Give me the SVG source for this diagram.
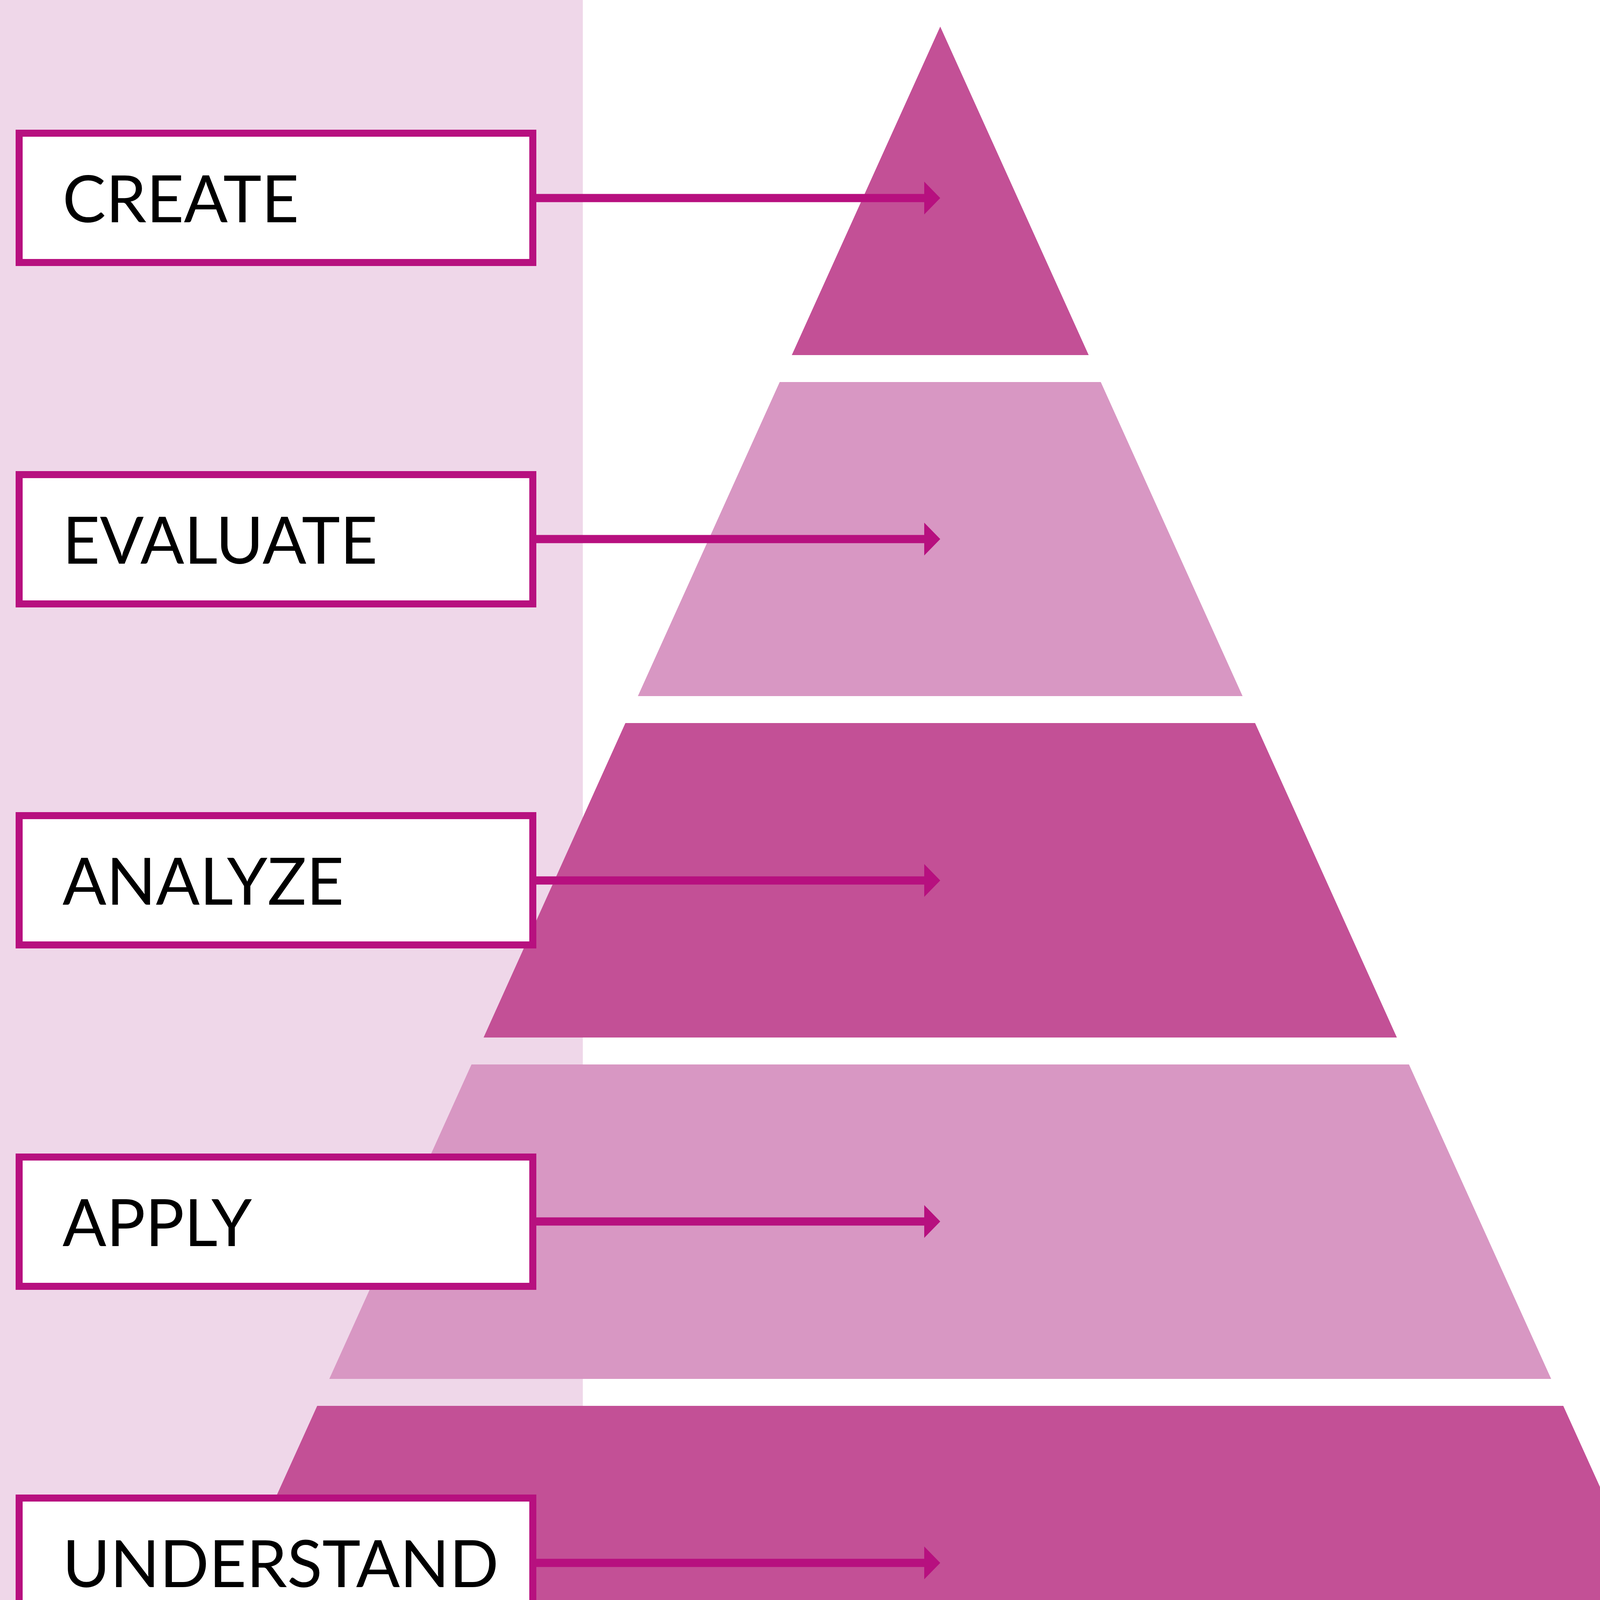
<svg xmlns="http://www.w3.org/2000/svg" width="4734" height="5277" viewBox="0 0 4734 5277">
<style>
.dark{fill:#C35096}
.light{fill:#D897C3}
.box{fill:#FFFFFF;stroke:#B7107F;stroke-width:18}
.lbl{font-family:Lato,"Liberation Sans",sans-serif;font-size:166px;fill:#000000}
.conn{stroke:#B7107F;stroke-width:21;fill:none}
</style>
<defs>
<marker id="ah" markerUnits="userSpaceOnUse" markerWidth="41" markerHeight="84" viewBox="0 0 41 84" refX="0" refY="42" orient="auto">
<path d="M0,0 L41,42 L0,84 Z" fill="#B7107F"/>
</marker>
</defs>
<rect x="0" y="0" width="4734" height="5277" fill="#FFFFFF"/>
<rect x="0" y="0" width="1492" height="5277" fill="#EFD7E9"/>
<g id="pyramid">
<polygon id="tier-create" class="dark" points="2407,68 2787,909 2027,909"/>
<polygon id="tier-evaluate" class="light" points="1996,978 2818,978 3181,1782 1633,1782"/>
<polygon id="tier-analyze" class="dark" points="1601,1851 3213,1851 3576,2656 1238,2656"/>
<polygon id="tier-apply" class="light" points="1207,2725 3607,2725 3971,3530 843,3530"/>
<polygon id="tier-understand" class="dark" points="812,3599 4002,3599 4366,4403 448,4403"/>
<polygon id="tier-remember" class="light" points="417,4473 4397,4473 4760,5277 54,5277"/>
</g>
<g id="connectors">
<line class="conn" x1="1373" y1="507" x2="2366" y2="507" marker-end="url(#ah)"/>
<line class="conn" x1="1373" y1="1380" x2="2366" y2="1380" marker-end="url(#ah)"/>
<line class="conn" x1="1373" y1="2254" x2="2366" y2="2254" marker-end="url(#ah)"/>
<line class="conn" x1="1373" y1="3127" x2="2366" y2="3127" marker-end="url(#ah)"/>
<line class="conn" x1="1373" y1="4001" x2="2366" y2="4001" marker-end="url(#ah)"/>
<line class="conn" x1="1373" y1="4875" x2="2366" y2="4875" marker-end="url(#ah)"/>
</g>
<g id="node-create"><rect class="box" x="49" y="341" width="1315" height="331"/><text class="lbl" x="160" y="569">CREATE</text></g>
<g id="node-evaluate"><rect class="box" x="49" y="1215" width="1315" height="331"/><text class="lbl" x="160" y="1443">EVALUATE</text></g>
<g id="node-analyze"><rect class="box" x="49" y="2088" width="1315" height="331"/><text class="lbl" x="160" y="2316">ANALYZE</text></g>
<g id="node-apply"><rect class="box" x="49" y="2962" width="1315" height="331"/><text class="lbl" x="160" y="3190">APPLY</text></g>
<g id="node-understand"><rect class="box" x="49" y="3835" width="1315" height="331"/><text class="lbl" x="160" y="4063">UNDERSTAND</text></g>
<g id="node-remember"><rect class="box" x="49" y="4709" width="1315" height="331"/><text class="lbl" x="160" y="4937">REMEMBER</text></g>
</svg>
